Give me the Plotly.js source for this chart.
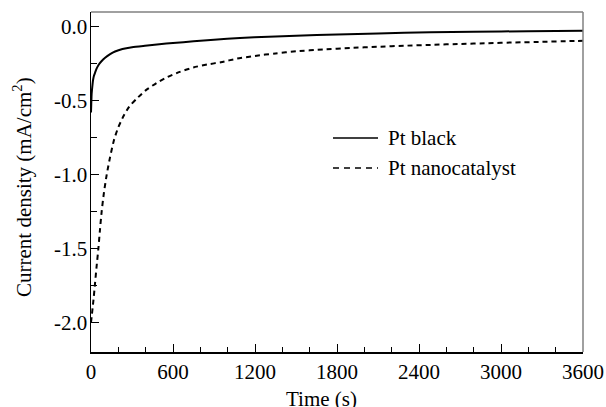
<!DOCTYPE html>
<html>
<head>
<meta charset="utf-8">
<script src="https://cdn.plot.ly/plotly-3.0.1.min.js"></script>
<style>html,body{margin:0;padding:0;background:#fff;}#chart{width:606px;height:407px;}</style>
</head>
<body>
<div id="chart"></div>
<script>
// Pt black (solid)
const blackT = [0, 2, 5, 10, 15, 22, 30, 40, 54, 75, 103, 140, 176, 230, 300, 395, 500, 600, 750, 900, 1090, 1300, 1500, 1800, 2100, 2482, 2800, 3200, 3600];
const blackY = [-0.58, -0.52, -0.45, -0.40, -0.36, -0.33, -0.31, -0.285, -0.26, -0.235, -0.21, -0.185, -0.167, -0.15, -0.138, -0.128, -0.118, -0.11, -0.098, -0.088, -0.076, -0.067, -0.06, -0.052, -0.045, -0.037, -0.033, -0.03, -0.027];
// Pt nanocatalyst (dashed)
const nanoT = [0, 5, 12, 20, 30, 40, 54, 65, 78, 95, 115, 140, 170, 200, 240, 280, 330, 400, 480, 560, 650, 750, 850, 950, 1070, 1200, 1350, 1500, 1700, 1900, 2100, 2300, 2500, 2700, 2900, 3100, 3300, 3500, 3600];
const nanoY = [-2.0, -1.96, -1.9, -1.83, -1.73, -1.63, -1.5, -1.38, -1.25, -1.12, -1.0, -0.88, -0.76, -0.68, -0.6, -0.54, -0.49, -0.43, -0.38, -0.34, -0.305, -0.275, -0.255, -0.24, -0.215, -0.197, -0.18, -0.166, -0.153, -0.143, -0.135, -0.128, -0.122, -0.116, -0.111, -0.106, -0.102, -0.097, -0.095];

const seriesNames = ["Pt black", "Pt nanocatalyst"];
const xTickVals = [0, 600, 1200, 1800, 2400, 3000, 3600];
const xTickText = ["0", "600", "1200", "1800", "2400", "3000", "3600"];
const yTickVals = [0, -0.5, -1.0, -1.5, -2.0];
const yTickText = ["0.0", "-0.5", "-1.0", "-1.5", "-2.0"];
const xTitle = "Time (s)";
const yTitle = "Current density (mA/cm<sup>2</sup>)";

const font = "Liberation Serif, Times New Roman, serif";
const FS = 21;
const dashStyle = "5px,4px";

// plot area in pixels: left 91, right 583, top 12, bottom 352
const L = 91, R = 583, T = 12, B = 352;
const px = x => (x - L) / (R - L);
const py = y => (B - y) / (B - T);

const traces = [
  {x: blackT, y: blackY, name: seriesNames[0], mode: "lines", line: {color: "#000", width: 2, shape: "spline", smoothing: 0.6}},
  {x: nanoT, y: nanoY, name: seriesNames[1], mode: "lines", line: {color: "#000", width: 2, dash: dashStyle, shape: "spline", smoothing: 0.6}}
];

const legendRows = [
  {name: seriesNames[0], dash: "solid", y: 138},
  {name: seriesNames[1], dash: "6px,5px", y: 168}
];

const shapes = [
  {type: "line", xref: "paper", yref: "paper", x0: 0, x1: 1, y0: 1, y1: 1, line: {color: "#808080", width: 1.5}},
  {type: "line", xref: "paper", yref: "paper", x0: 1, x1: 1, y0: 0, y1: 1, line: {color: "#808080", width: 1.5}}
];
const annotations = [
  {text: xTitle, xref: "paper", yref: "paper", x: px(321), y: py(399), xanchor: "center", yanchor: "middle", showarrow: false, font: {family: font, size: FS}},
  {text: yTitle, xref: "paper", yref: "paper", x: px(23), y: py(187), xanchor: "center", yanchor: "middle", textangle: -90, showarrow: false, font: {family: font, size: FS}}
];
legendRows.forEach(r => {
  shapes.push({type: "line", xref: "paper", yref: "paper", x0: px(333), x1: px(378), y0: py(r.y), y1: py(r.y), line: {color: "#000", width: 1.5, dash: r.dash}});
  annotations.push({text: r.name, xref: "paper", yref: "paper", x: px(386), y: py(r.y), xanchor: "left", yanchor: "middle", showarrow: false, font: {family: font, size: FS}});
});

const layout = {
  width: 606, height: 407,
  margin: {l: L, r: 606 - R, t: T, b: 407 - B, pad: 0},
  paper_bgcolor: "#fff", plot_bgcolor: "#fff",
  font: {family: font, size: FS, color: "#000"},
  showlegend: false,
  xaxis: {
    range: [0, 3600], showgrid: false, zeroline: false,
    showline: true, linecolor: "#000", linewidth: 1.5,
    ticks: "inside", ticklen: 8, tickwidth: 1, tickcolor: "#000",
    tickmode: "array", tickvals: xTickVals, ticktext: xTickText,
    minor: {dtick: 200, tick0: 0, ticks: "inside", ticklen: 5, tickwidth: 1, tickcolor: "#000", showgrid: false},
    tickfont: {family: font, size: FS}
  },
  yaxis: {
    range: [-2.2, 0.1], showgrid: false, zeroline: false,
    showline: true, linecolor: "#000", linewidth: 1.5,
    ticks: "inside", ticklen: 8, tickwidth: 1, tickcolor: "#000",
    tickmode: "array", tickvals: yTickVals, ticktext: yTickText,
    ticklabelstandoff: -2,
    minor: {dtick: 0.25, tick0: 0, ticks: "inside", ticklen: 6, tickwidth: 1, tickcolor: "#000", showgrid: false},
    tickfont: {family: font, size: FS}
  },
  shapes: shapes,
  annotations: annotations
};

Plotly.newPlot("chart", traces, layout, {staticPlot: true, displayModeBar: false});
</script>
</body>
</html>
